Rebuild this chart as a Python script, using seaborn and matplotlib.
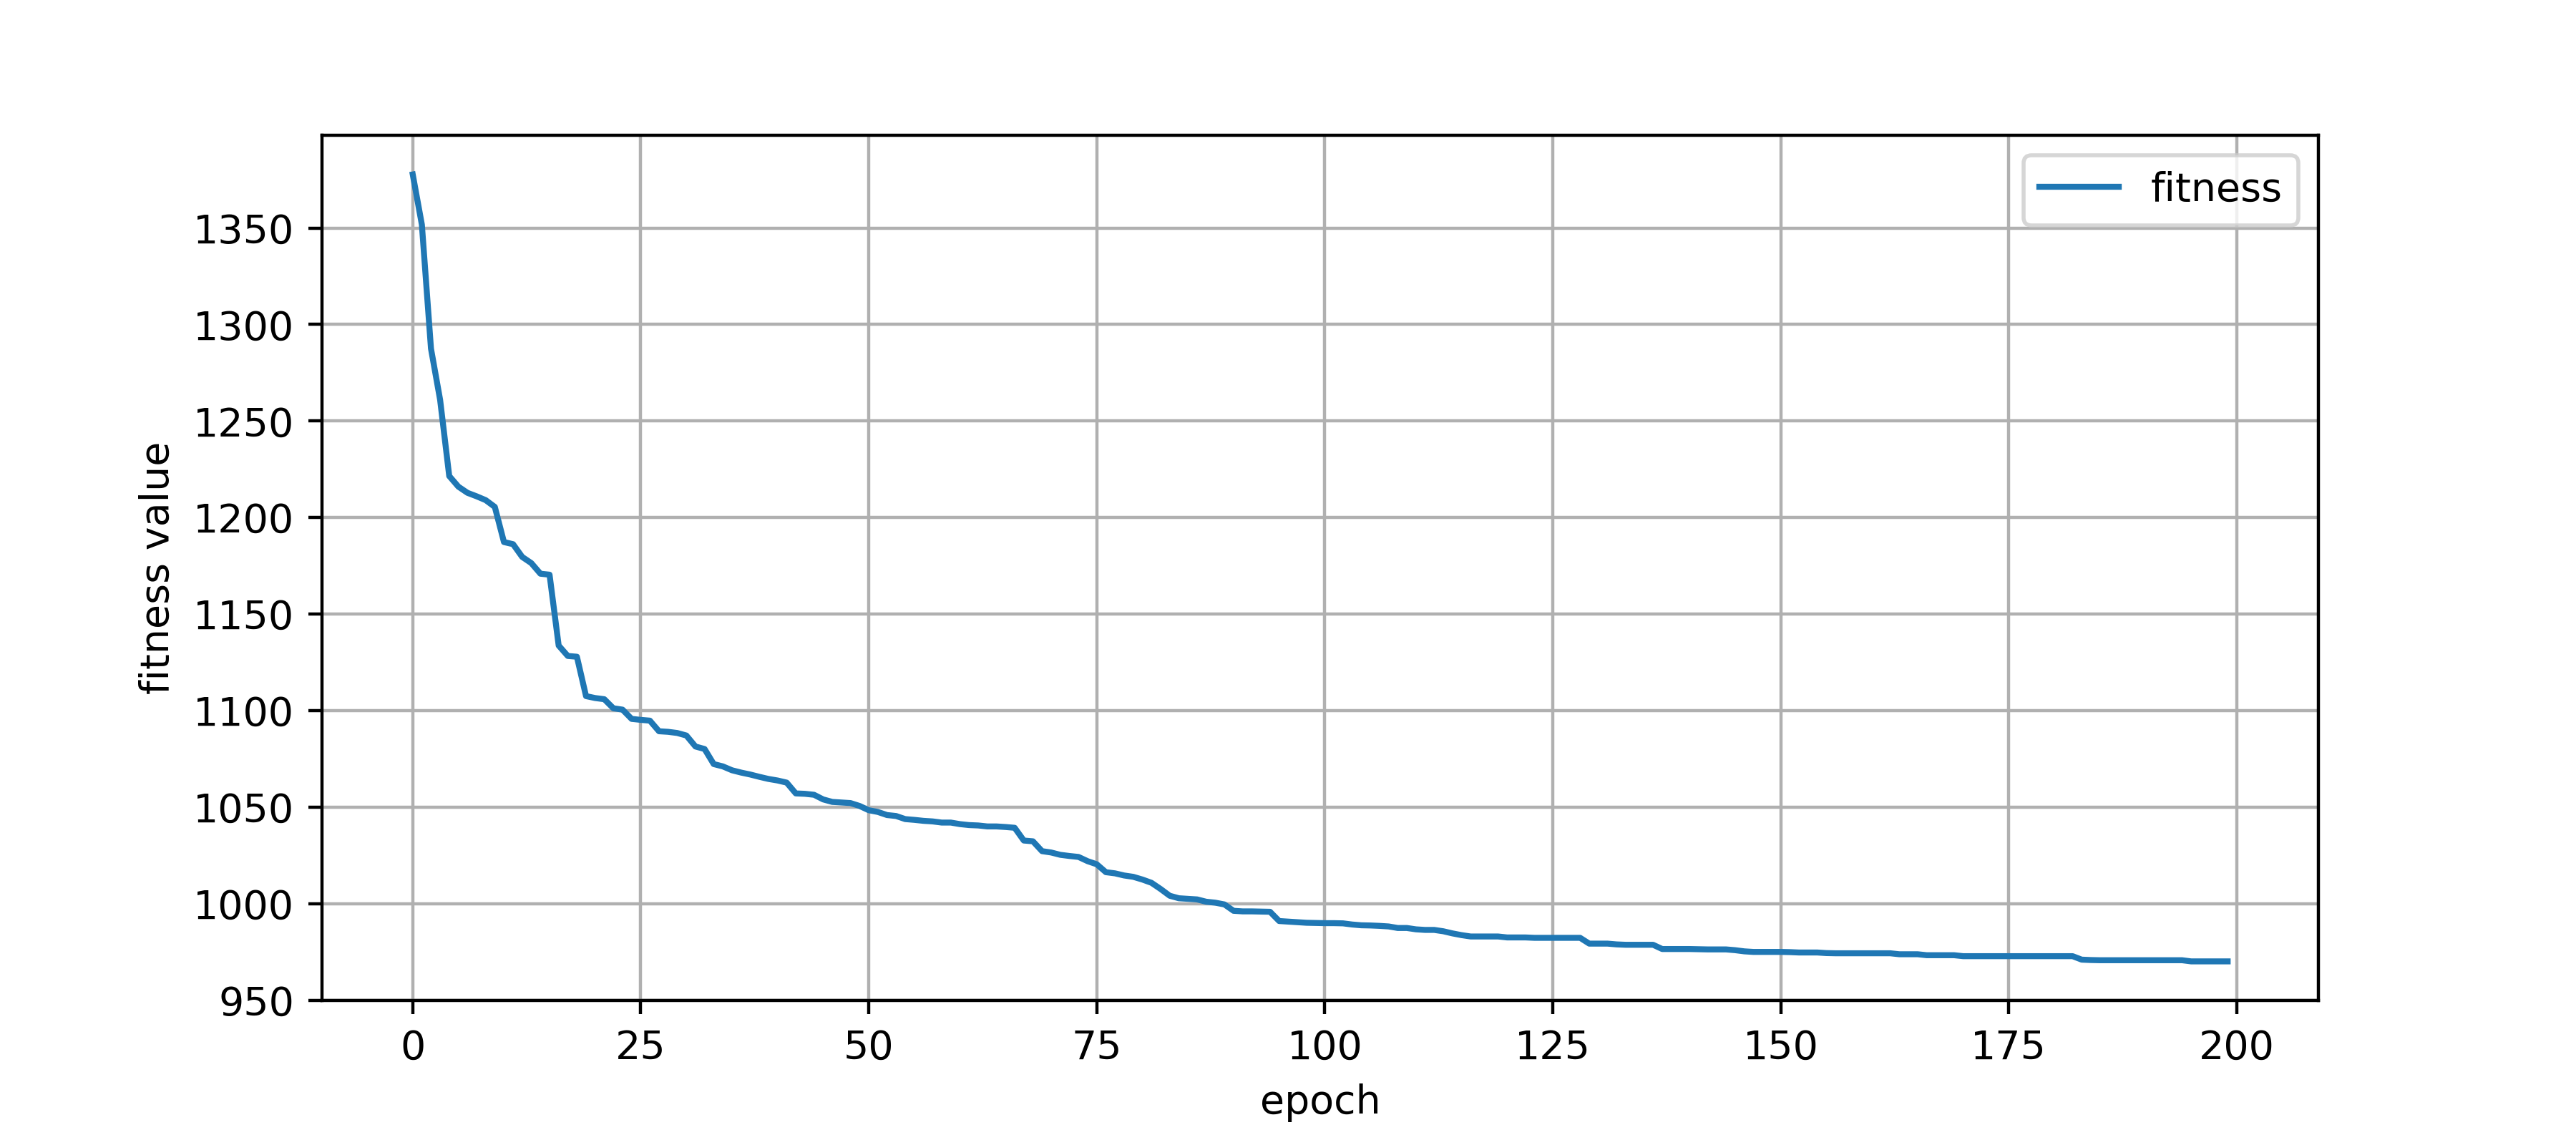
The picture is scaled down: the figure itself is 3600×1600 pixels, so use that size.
import seaborn as sns
import matplotlib.pyplot as plt

# fitness per epoch
epochs = list(range(200))
fitness = [
    1377.7, 1351.7, 1287.5, 1261.0, 1221.5, 1216.0, 1212.8, 1211.0, 1209.0, 1205.5,
    1187.3, 1186.2, 1179.6, 1176.4, 1170.9, 1170.4, 1133.7, 1128.3, 1127.9, 1107.5,
    1106.5, 1105.9, 1101.2, 1100.5, 1095.7, 1095.2, 1094.8, 1089.3, 1089.0, 1088.4,
    1087.1, 1081.4, 1080.1, 1072.3, 1071.1, 1069.1, 1067.9, 1066.9, 1065.7, 1064.6,
    1063.8, 1062.7, 1057.1, 1056.9, 1056.4, 1054.0, 1052.7, 1052.4, 1052.1, 1050.6,
    1048.4, 1047.5, 1045.9, 1045.4, 1043.8, 1043.4, 1042.9, 1042.6, 1042.0, 1042.0,
    1041.2, 1040.7, 1040.5, 1040.0, 1040.0, 1039.7, 1039.3, 1032.7, 1032.3, 1027.2,
    1026.5, 1025.3, 1024.7, 1024.2, 1022.0, 1020.4, 1016.3, 1015.7, 1014.6, 1013.9,
    1012.5, 1010.8, 1007.6, 1004.1, 1002.8, 1002.5, 1002.2, 1001.0, 1000.5, 999.6,
    996.3, 996.0, 996.0, 995.9, 995.8, 991.0, 990.7, 990.4, 990.1, 990.0,
    989.9, 989.9, 989.8, 989.2, 988.8, 988.7, 988.5, 988.2, 987.4, 987.4,
    986.7, 986.4, 986.4, 985.7, 984.6, 983.7, 983.0, 983.0, 983.0, 983.0,
    982.5, 982.5, 982.5, 982.3, 982.3, 982.3, 982.3, 982.3, 982.3, 979.3,
    979.3, 979.3, 978.9, 978.7, 978.7, 978.7, 978.7, 976.5, 976.5, 976.5,
    976.5, 976.4, 976.3, 976.3, 976.3, 975.9, 975.3, 975.0, 975.0, 975.0,
    975.0, 974.9, 974.7, 974.7, 974.7, 974.4, 974.3, 974.3, 974.3, 974.3,
    974.3, 974.3, 974.3, 973.8, 973.8, 973.8, 973.3, 973.3, 973.3, 973.3,
    972.8, 972.8, 972.8, 972.8, 972.8, 972.8, 972.8, 972.8, 972.8, 972.8,
    972.8, 972.8, 972.8, 971.0, 970.8, 970.7, 970.7, 970.7, 970.7, 970.7,
    970.7, 970.7, 970.7, 970.7, 970.7, 970.1, 970.1, 970.1, 970.1, 970.1,
]

fig, ax = plt.subplots(figsize=(9, 4), dpi=400)
fig.subplots_adjust(left=0.125, right=0.9, top=0.882, bottom=0.126)

sns.lineplot(x=epochs, y=fitness, label='fitness', color='#1f77b4', linewidth=1.5, ax=ax)
ax.grid(True)
ax.set_xlabel('epoch')
ax.set_ylabel('fitness value')
ax.legend(loc='upper right')

plt.savefig('out.png', dpi=400)
